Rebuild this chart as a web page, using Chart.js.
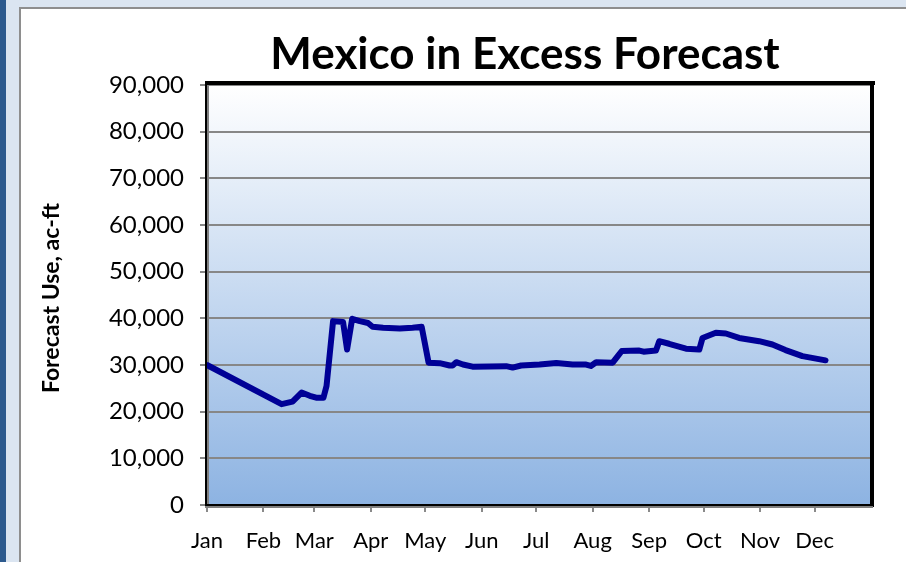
<!DOCTYPE html>
<html>
<head>
<meta charset="utf-8">
<script src="https://cdn.jsdelivr.net/npm/chart.js@4/dist/chart.umd.min.js"></script>
<style>
  html, body { margin: 0; padding: 0; background: #ffffff; }
  #wrap { width: 906px; height: 562px; position: relative; }
  canvas { display: block; }
</style>
</head>
<body>
<div id="wrap"><canvas id="c" width="906" height="562"></canvas></div>
<script>
// ---- Data ----
const chartTitle = "Mexico in Excess Forecast";
const yAxisTitle = "Forecast Use, ac-ft";
const monthLabels = ["Jan","Feb","Mar","Apr","May","Jun","Jul","Aug","Sep","Oct","Nov","Dec"];
const monthStartDays = [0, 31, 59, 90, 120, 151, 181, 212, 243, 273, 304, 334];
const yTickValues = [0, 10000, 20000, 30000, 40000, 50000, 60000, 70000, 80000, 90000];
// day of year for each reading
const dayOfYear = [0, 41, 47, 52, 56.5, 60, 64, 65.7, 69.3, 74.8, 77, 79.8, 84, 88.5, 91, 96.8, 106, 113, 118, 121.8, 127.9, 133.4, 135, 137, 140.7, 146, 164.5, 168, 172.7, 182.8, 192, 201, 208.4, 211, 213.9, 223, 225.8, 228, 237.6, 240, 246.8, 248.6, 254, 263.3, 270.6, 272.4, 279.7, 285.2, 292.5, 303.5, 310.8, 318, 327.3, 340];
// forecast use, ac-ft
const forecastUse = [30000, 21600, 22150, 24100, 23400, 23000, 23000, 25500, 39400, 39200, 33300, 39900, 39400, 39000, 38200, 38000, 37800, 38000, 38200, 30500, 30400, 29900, 29900, 30600, 30100, 29650, 29750, 29450, 29900, 30100, 30450, 30100, 30100, 29800, 30600, 30500, 31900, 33000, 33100, 32850, 33100, 35100, 34550, 33500, 33300, 35800, 36900, 36750, 35800, 35100, 34400, 33200, 31900, 31000];

const points = dayOfYear.map((d, i) => ({ x: d, y: forecastUse[i] }));

const FONT = "Lato, 'Open Sans', 'Liberation Sans', sans-serif";
const Y_AXIS_W = 207;
const X_AXIS_H = 50;

const framePlugin = {
  id: 'frame',
  beforeDraw(chart) {
    const ctx = chart.ctx;
    const W = chart.width, H = chart.height;
    const a = chart.chartArea;
    ctx.save();
    ctx.fillStyle = '#ffffff';
    ctx.fillRect(0, 0, W, H);
    // outer light-blue frame
    ctx.fillStyle = '#dbe5f1';
    ctx.fillRect(0, 0, W, 7);
    ctx.fillRect(0, 0, 19, H);
    // dark blue left stripe
    ctx.fillStyle = '#2d5a8e';
    ctx.fillRect(0, 0, 6, H);
    // gray border of the chart sheet
    ctx.fillStyle = '#8e8e8e';
    ctx.fillRect(19, 7, W - 19, 2);
    ctx.fillRect(19, 7, 2, H - 7);
    // plot area gradient
    const g = ctx.createLinearGradient(0, a.top, 0, a.bottom);
    g.addColorStop(0, '#ffffff');
    g.addColorStop(1, '#8db3e2');
    ctx.fillStyle = g;
    ctx.fillRect(a.left, a.top, a.right - a.left, a.bottom - a.top);
    ctx.restore();
  },
  beforeDatasetsDraw(chart) {
    const ctx = chart.ctx;
    const a = chart.chartArea;
    ctx.save();
    // plot border with shadow
    ctx.fillStyle = '#000000';
    ctx.fillRect(a.left - 2, a.top - 4, a.right - a.left + 6, 4);     // top
    ctx.fillRect(a.right - 1, a.top - 4, 4, a.bottom - a.top + 6);    // right
    ctx.fillRect(a.left - 2, a.top - 2, 2, a.bottom - a.top + 2);     // left
    ctx.fillRect(a.left - 2, a.bottom - 1, a.right - a.left + 3, 2);  // bottom
    ctx.fillStyle = '#808080';
    ctx.fillRect(a.left, a.top, 2, a.bottom - a.top - 1);             // inner left
    ctx.fillRect(a.left - 2, a.bottom + 1, a.right - a.left + 4, 2);  // outer bottom
    ctx.restore();
  },
  afterDraw(chart) {
    const ctx = chart.ctx;
    ctx.save();
    ctx.fillStyle = '#000000';
    ctx.font = "bold 44px " + FONT;
    ctx.textAlign = 'center';
    ctx.textBaseline = 'alphabetic';
    ctx.fillText(chartTitle, 525, 69);
    ctx.translate(52, 298);
    ctx.rotate(-Math.PI / 2);
    ctx.font = "bold 23px " + FONT;
    ctx.textBaseline = 'middle';
    ctx.fillText(yAxisTitle, 0, 0);
    ctx.restore();
  }
};

new Chart(document.getElementById('c'), {
  type: 'line',
  data: {
    datasets: [{
      label: 'Forecast Use',
      data: points,
      borderColor: '#000096',
      borderWidth: 6,
      pointRadius: 0,
      tension: 0,
      fill: false,
      borderJoinStyle: 'round',
      borderCapStyle: 'round'
    }]
  },
  options: {
    responsive: false,
    animation: false,
    layout: { padding: { left: 0, top: 85, right: 35, bottom: 562 - 505 - X_AXIS_H } },
    plugins: { legend: { display: false }, tooltip: { enabled: false }, title: { display: false } },
    scales: {
      x: {
        type: 'linear',
        min: 0,
        max: 365,
        afterBuildTicks(axis) { axis.ticks = monthStartDays.map(v => ({ value: v })); },
        afterFit(axis) { axis.height = X_AXIS_H; },
        ticks: {
          autoSkip: false,
          maxRotation: 0,
          color: '#000000',
          font: { family: FONT, size: 22 },
          padding: 16,
          callback: (v, i) => monthLabels[i]
        },
        grid: { display: true, drawOnChartArea: false, drawTicks: true, tickLength: 7, color: '#8a8a8a', lineWidth: 2 },
        border: { display: false }
      },
      y: {
        type: 'linear',
        min: 0,
        max: 90000,
        afterBuildTicks(axis) { axis.ticks = yTickValues.map(v => ({ value: v })); },
        afterFit(axis) { axis.width = Y_AXIS_W; },
        ticks: {
          color: '#000000',
          font: { family: FONT, size: 24 },
          padding: 16,
          callback: v => v.toLocaleString('en-US')
        },
        grid: { display: true, drawOnChartArea: true, drawTicks: true, tickLength: 7, color: '#878787', lineWidth: 2 },
        border: { display: false }
      }
    }
  },
  plugins: [framePlugin]
});
</script>
</body>
</html>
